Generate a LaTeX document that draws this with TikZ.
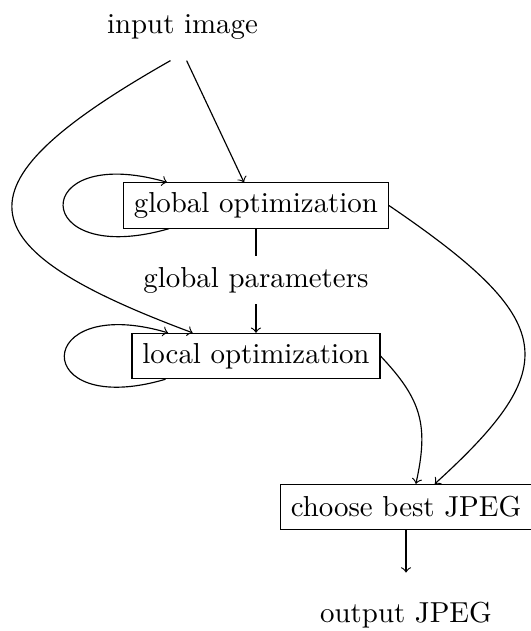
\documentclass[tikz,border=0pt]{standalone}
\usepackage{amsmath,amssymb}
\usepackage{xcolor}
\usepackage{tikz}
\usetikzlibrary{shapes,positioning}
\tikzset{box/.style={rectangle,draw,inner xsep=3.6pt,inner ysep=0pt,minimum height=0.55cm}}
\tikzset{txt/.style={rectangle,inner sep=0pt}}

\begin{document}
\begin{tikzpicture}[>=to]
    \useasboundingbox (0,0) rectangle (6.448,-7.676);
    \node[txt,minimum height=0.80cm] (inp) at (2.22,-0.33) {input image};
    \node[box] (glob) at (3.114,-2.50) {global optimization};
    \node[txt,minimum height=0.57cm] (par) at (3.114,-3.412) {global parameters};
    \node[box] (loc) at (3.114,-4.331) {local optimization};
    \node[box] (best) at (4.939,-6.168) {choose best JPEG};
    \node[txt,minimum height=1.02cm] (out) at (4.939,-7.482) {output JPEG};

    \draw [->] ([xshift=0.05cm]inp.south) to [] ([xshift=-0.146cm]glob.north);
    \draw [->] ([xshift=-0.146cm]inp.south) .. controls +(-2.646,-1.502) and +(-2.850,1.061) .. ([xshift=-0.77cm]loc.north);
    \draw [->] ([xshift=-1.06cm]glob.south) .. controls +(-1.70,-0.49) and +(-1.70,0.49) .. ([xshift=-1.08cm]glob.north);
    \draw [->] ([xshift=-1.10cm]loc.south) .. controls +(-1.66,-0.49) and +(-1.66,0.49) .. ([xshift=-1.07cm]loc.north);
    \draw [] (glob) to [] (par);
    \draw [->] (par) to [] (loc);
    \draw [->] (glob.east) .. controls +(2.062,-1.404) and +(1.575,1.433) .. ([xshift=0.35cm]best.north);
    \draw [->] (loc.east) .. controls +(0.501,-0.530) and +(0.158,0.713) .. ([xshift=0.12cm]best.north);
    \draw [->] (best) to [] (out);
\end{tikzpicture}
\end{document}
